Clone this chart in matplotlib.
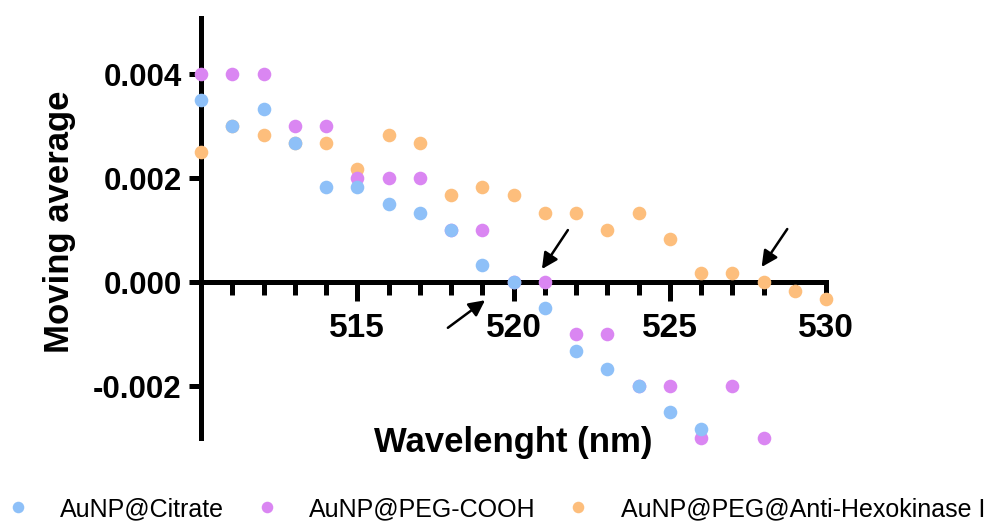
import matplotlib
matplotlib.use("Agg")
import matplotlib.pyplot as plt
from matplotlib.ticker import FixedLocator, FixedFormatter

plt.rcParams['font.family'] = ['Liberation Sans', 'DejaVu Sans']

# ---- data ----
wl_citrate = [510, 511, 512, 513, 514, 515, 516, 517, 518, 519, 520, 521, 522, 523, 524, 525, 526]
ma_citrate = [0.0035, 0.0030, 0.00333, 0.00267, 0.00183, 0.00183, 0.0015, 0.00133, 0.0010, 0.000333,
              0.0, -0.0005, -0.00133, -0.00167, -0.0020, -0.0025, -0.00283]

wl_peg = [510, 511, 512, 513, 514, 515, 516, 517, 518, 519, 520, 521, 522, 523, 524, 525, 526, 527, 528]
ma_peg = [0.004, 0.004, 0.004, 0.003, 0.003, 0.002, 0.002, 0.002, 0.001, 0.001,
          0.0, 0.0, -0.001, -0.001, -0.002, -0.002, -0.003, -0.002, -0.003]

wl_anti = [510, 511, 512, 513, 514, 515, 516, 517, 518, 519, 520, 521, 522, 523, 524, 525,
           526, 527, 528, 529, 530]
ma_anti = [0.0025, 0.0030, 0.00283, 0.00267, 0.00267, 0.00217, 0.00283, 0.00267, 0.00167, 0.00183,
           0.00167, 0.00133, 0.00133, 0.0010, 0.00133, 0.00083, 0.00017, 0.00017, 0.0, -0.00017, -0.00033]

labels = ['AuNP@Citrate', 'AuNP@PEG-COOH', 'AuNP@PEG@Anti-Hexokinase I']
colors = ['#8EC0F8', '#DA86F2', '#FDBE7C']

x_major = [515, 520, 525, 530]
x_minor = [511, 512, 513, 514, 516, 517, 518, 519, 521, 522, 523, 524, 526, 527, 528, 529]
y_major = [-0.002, 0.000, 0.002, 0.004]
y_labels = ['-0.002', '0.000', '0.002', '0.004']

# arrows (tail, tip) in data coords
arrows = [((521.74, 0.00100), (520.91, 0.00025)),
          ((528.76, 0.00102), (527.94, 0.00029)),
          ((517.90, -0.00088), (519.09, -0.00035))]

# ---- figure ----
fig = plt.figure(figsize=(9.94, 5.23), dpi=100)
ax = fig.add_axes([201/994, 1 - 438/523, 625/994, 420/523])

series = [(wl_citrate, ma_citrate), (wl_peg, ma_peg), (wl_anti, ma_anti)]
zs = [6, 5, 4]
for (x, y), lab, c, z in zip(series, labels, colors, zs):
    ax.plot(x, y, linestyle='none', marker='o', markersize=9.8, color=c,
            markeredgewidth=0, label=lab, zorder=z, clip_on=False)

ax.set_xlim(510, 530)
ax.set_ylim(-0.003, 0.00508)

for s in ['top', 'right']:
    ax.spines[s].set_visible(False)
ax.spines['left'].set_position(('data', 510))
ax.spines['bottom'].set_position(('data', 0))
for s in ['left', 'bottom']:
    ax.spines[s].set_linewidth(3.6)
    ax.spines[s].set_capstyle('projecting')

ax.xaxis.set_major_locator(FixedLocator(x_major))
ax.xaxis.set_minor_locator(FixedLocator(x_minor))
ax.yaxis.set_major_locator(FixedLocator(y_major))
ax.yaxis.set_major_formatter(FixedFormatter(y_labels))

ax.tick_params(axis='x', which='major', length=14, width=3.6, pad=8,
               labelsize=24, direction='out')
ax.tick_params(axis='x', which='minor', length=9, width=3.6, direction='out')
ax.tick_params(axis='y', which='major', length=9, width=3.6, pad=5,
               labelsize=22.5, direction='out')
for lab in ax.get_xticklabels() + ax.get_yticklabels():
    lab.set_fontweight('bold')

ax.set_xlabel('Wavelenght (nm)', fontsize=25, fontweight='bold')
ax.xaxis.set_label_coords(0.5, -0.01)
ax.xaxis.label.set_va('center')
ax.set_ylabel('Moving average', fontsize=25, fontweight='bold')
ax.yaxis.set_label_coords(-0.227, 0.514)
ax.yaxis.label.set_va('center')

for tail, tip in arrows:
    ax.annotate('', xy=tip, xytext=tail,
                arrowprops=dict(arrowstyle='-|>', color='black', lw=1.8,
                                mutation_scale=24, shrinkA=0, shrinkB=0),
                zorder=7)

handles, labs = ax.get_legend_handles_labels()
leg = fig.legend(handles, labs, loc='center left', bbox_to_anchor=(5/994, 1 - 509/523),
                 ncol=3, frameon=False, fontsize=18, markerscale=0.85,
                 handlelength=1.0, handletextpad=1.2, columnspacing=1.2,
                 borderpad=0, borderaxespad=0)

fig.savefig('out.png', dpi=100)
